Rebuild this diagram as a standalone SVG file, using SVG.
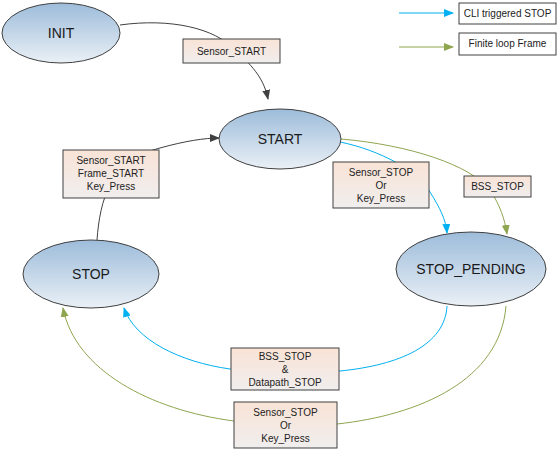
<svg xmlns="http://www.w3.org/2000/svg" width="558" height="451" viewBox="0 0 558 451">
<style>
.st{fill:url(#gE);stroke:#404040;stroke-width:1}
.bx{fill:url(#gB);stroke:#404040;stroke-width:1}
.lg{fill:#fff;stroke:#404040;stroke-width:1}
.sn{font-family:"Liberation Sans",Arial,sans-serif;font-size:14px;fill:#1a1a1a;text-anchor:middle}
.lb{font-family:"Liberation Sans",Arial,sans-serif;font-size:10px;fill:#222;text-anchor:middle}
.k{fill:none;stroke:#404040;stroke-width:1}
.b{fill:none;stroke:#00b0f0;stroke-width:1}
.g{fill:none;stroke:#8fa54f;stroke-width:1}
</style>
<defs>
<linearGradient id="gE" x1="0" y1="0" x2="0" y2="1">
<stop offset="0" stop-color="#9dbcda"/>
<stop offset="1" stop-color="#eaf0f6"/>
</linearGradient>
<linearGradient id="gB" x1="0" y1="0" x2="0" y2="1">
<stop offset="0" stop-color="#f9e3d6"/>
<stop offset="1" stop-color="#f0eeee"/>
</linearGradient>
<marker id="aK" markerWidth="10" markerHeight="8" refX="9" refY="4" orient="auto" markerUnits="userSpaceOnUse">
<path d="M0,0 L10,4 L0,8 Z" fill="#404040"/>
</marker>
<marker id="aB" markerWidth="10" markerHeight="8" refX="9" refY="4" orient="auto" markerUnits="userSpaceOnUse">
<path d="M0,0 L10,4 L0,8 Z" fill="#00b0f0"/>
</marker>
<marker id="aG" markerWidth="10" markerHeight="8" refX="9" refY="4" orient="auto" markerUnits="userSpaceOnUse">
<path d="M0,0 L10,4 L0,8 Z" fill="#8fa54f"/>
</marker>
</defs>
<g id="connectors">
<path class="k" d="M120,25 C170,18 215,28 235,50 C255,68 264,80 268,99" marker-end="url(#aK)"/>
<path class="k" d="M97,240 C100,200 110,160 160,148 C185,141 205,138 219,138" marker-end="url(#aK)"/>
<path class="b" d="M340,142 C380,150 420,172 430,192 C440,208 446,220 447,233" marker-end="url(#aB)"/>
<path class="g" d="M341,139 C410,145 470,165 490,190 C500,205 505,220 507,234" marker-end="url(#aG)"/>
<path class="b" d="M447,306 C445,345 400,365 340,371 L230,369 C180,362 135,340 124,308" marker-end="url(#aB)"/>
<path class="g" d="M506,306 C500,380 420,415 337,424 L234,421 C150,410 75,370 63,308" marker-end="url(#aG)"/>
<path class="b" d="M399,13 L453,13" marker-end="url(#aB)"/>
<path class="g" d="M399,47 L453,47" marker-end="url(#aG)"/>
</g>
<g id="INIT"><ellipse class="st" cx="61" cy="33" rx="59" ry="30"/><text class="sn" x="61" y="38">INIT</text></g>
<g id="START"><ellipse class="st" cx="280" cy="139" rx="61" ry="30"/><text class="sn" x="280" y="144">START</text></g>
<g id="STOP"><ellipse class="st" cx="91" cy="274" rx="68" ry="34"/><text class="sn" x="91" y="279">STOP</text></g>
<g id="STOP_PENDING"><ellipse class="st" cx="471" cy="269" rx="75" ry="37"/><text class="sn" x="471" y="274">STOP_PENDING</text></g>
<g id="lbl_sensor_start"><rect class="bx" x="183" y="39" width="97" height="24"/><text class="lb" x="231.5" y="55">Sensor_START</text></g>
<g id="lbl_restart"><rect class="bx" x="63" y="150" width="96" height="48"/><text class="lb" x="111" y="164">Sensor_START</text><text class="lb" x="111" y="177">Frame_START</text><text class="lb" x="111" y="190">Key_Press</text></g>
<g id="lbl_stop_top"><rect class="bx" x="333" y="162" width="96" height="46"/><text class="lb" x="381" y="176">Sensor_STOP</text><text class="lb" x="381" y="189">Or</text><text class="lb" x="381" y="202">Key_Press</text></g>
<g id="lbl_bss_top"><rect class="bx" x="464" y="176" width="67" height="21"/><text class="lb" x="497.5" y="190">BSS_STOP</text></g>
<g id="lbl_bss_bottom"><rect class="bx" x="231" y="348" width="108" height="42"/><text class="lb" x="285" y="360">BSS_STOP</text><text class="lb" x="285" y="373">&amp;</text><text class="lb" x="285" y="386">Datapath_STOP</text></g>
<g id="lbl_stop_bottom"><rect class="bx" x="234" y="402" width="103" height="46"/><text class="lb" x="285.5" y="416">Sensor_STOP</text><text class="lb" x="285.5" y="429">Or</text><text class="lb" x="285.5" y="442">Key_Press</text></g>
<g id="legend_cli"><rect class="lg" x="459" y="3" width="97" height="21"/><text class="lb" x="507.5" y="17">CLI triggered STOP</text></g>
<g id="legend_finite"><rect class="lg" x="459" y="33" width="97" height="22"/><text class="lb" x="507.5" y="47">Finite loop Frame</text></g>
</svg>
